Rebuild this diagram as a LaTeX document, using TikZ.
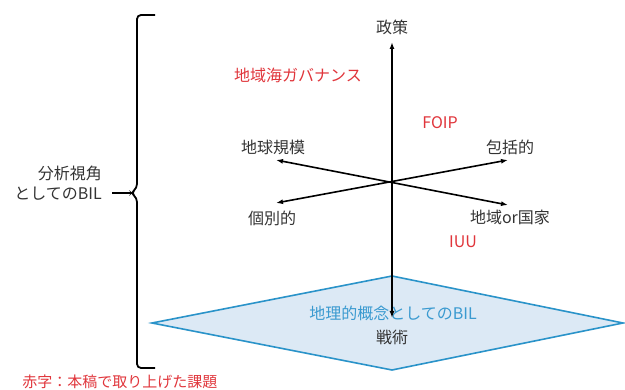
\documentclass[tikz,border=0pt]{standalone}
\usepackage{fontspec}
\setmainfont{Noto Sans CJK JP}
\usetikzlibrary{arrows.meta}
\definecolor{txt}{HTML}{333333}
\definecolor{redtxt}{HTML}{E0353B}
\definecolor{bluetxt}{HTML}{3A9AD0}
\definecolor{dia}{HTML}{2A93C9}
\definecolor{diafill}{HTML}{DCE9F5}
\begin{document}
\begin{tikzpicture}[x=1pt,y=-1pt,
  lbl/.style={inner sep=0pt,text=txt,font=\fontsize{16}{20}\selectfont},
  redlbl/.style={inner sep=0pt,text=redtxt,font=\fontsize{16}{20}\selectfont},
  axis/.style={line width=1.6pt,black,{Latex[length=7pt,width=5pt]}-{Latex[length=7pt,width=5pt]}},
  bracket/.style={line width=1.8pt,black,rounded corners=4pt}]
\useasboundingbox (0,0) rectangle (625,390);
% plane
\draw[dia,fill=diafill,line width=1.6pt] (152,323) -- (392,276) -- (623,323) -- (392,370) -- cycle;
\node[inner sep=0pt,text=bluetxt,font=\fontsize{16}{20}\selectfont] (geo) at (393,313) {地理的概念としてのBIL};
% axes
\coordinate (vtop) at (392,42);
\coordinate (vbot) at (392,318);
\coordinate (a1) at (276,160);
\coordinate (a2) at (508,205);
\coordinate (b1) at (276,203);
\coordinate (b2) at (508,160);
\draw[axis] (a1) -- (a2);
\draw[axis] (b1) -- (b2);
\draw[axis] (vtop) -- (vbot);
% labels
\node[lbl] (seisaku) at (392,27) {政策};
\node[lbl] (senjutsu) at (392,337) {戦術};
\node[lbl] (chikyu) at (273,147) {地球規模};
\node[lbl] (kobetsu) at (272,218) {個別的};
\node[lbl] (hokatsu) at (510,147) {包括的};
\node[lbl] (chiiki) at (510,217) {地域or国家};
% red
\node[redlbl] (gov) at (298,75) {地域海ガバナンス};
\node[redlbl] (foip) at (440,123) {FOIP};
\node[redlbl] (iuu) at (463,242) {IUU};
\node[inner sep=0pt,text=redtxt,font=\fontsize{15}{18}\selectfont,anchor=south] (note) at (120,389) {赤字：本稿で取り上げた課題};
% bracket
\node[lbl,align=right,anchor=east] (bil) at (102,183) {分析視角\\としてのBIL};
\coordinate (tip) at (131,193);
\draw[bracket] (155,15) -- (137,15) -- (137,188) -- (tip) -- (137,198) -- (137,368) -- (155,368);
\draw[line width=1.8pt] (112,193) -- (tip);
\end{tikzpicture}
\end{document}
